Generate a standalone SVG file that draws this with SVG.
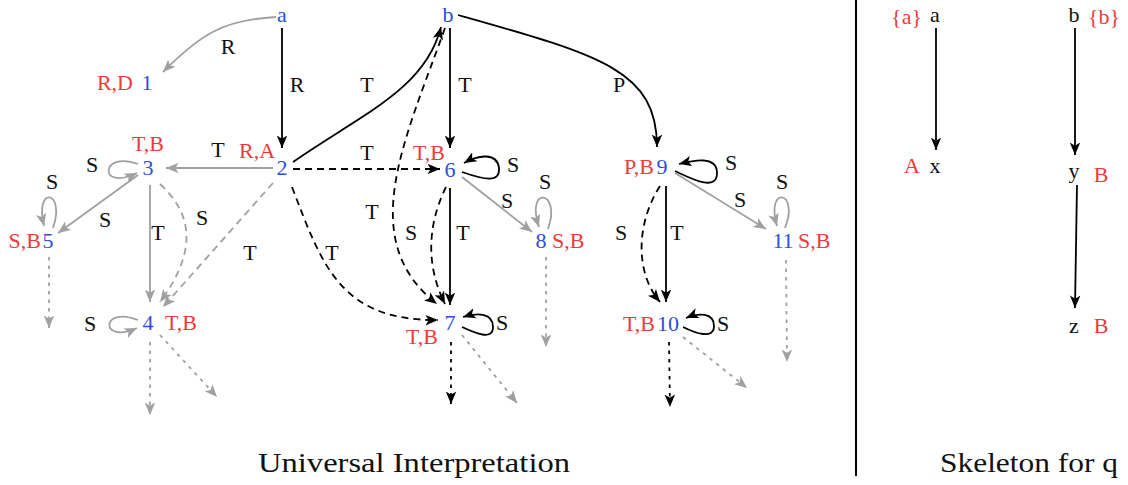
<svg xmlns="http://www.w3.org/2000/svg" width="1128" height="485" viewBox="0 0 1128 485">
<style>
text{font-family:"Liberation Serif","Times New Roman",serif;font-size:22px}
.n{fill:#2e4cdc;text-anchor:middle}
.r{fill:#ee3b3b}
.k{fill:#111}
.l{fill:#111;text-anchor:middle}
.m{text-anchor:middle}
.s{text-anchor:start}
.en{text-anchor:end}
.cap{font-size:28px;fill:#111}
#connectors path{fill:none;stroke-width:1.8}
.b{stroke:#000}
.g{stroke:#a0a0a0}
.d{stroke-dasharray:7 5}
.o{stroke-dasharray:3.5 5}
.ba{marker-end:url(#ab)}
.ga{marker-end:url(#ag)}
.hb{fill:#000;stroke:none}
.hg{fill:#a0a0a0;stroke:none}
</style>
<defs>
<marker id="ab" viewBox="0 0 10 10" refX="10" refY="5" markerWidth="12.5" markerHeight="12.5" markerUnits="userSpaceOnUse" orient="auto"><path class="hb" d="M0,0.8 L10,5 L0,9.2 L2.5,5 z"/></marker>
<marker id="ag" viewBox="0 0 10 10" refX="10" refY="5" markerWidth="12.5" markerHeight="12.5" markerUnits="userSpaceOnUse" orient="auto"><path class="hg" d="M0,0.8 L10,5 L0,9.2 L2.5,5 z"/></marker>
</defs>
<rect width="1128" height="485" fill="#fff"/>

<g id="connectors">
<path class="g ga" d="M276 17 C222 20 200 35 163 72"/>
<path class="b ba" d="M282 28 L282 148"/>
<path class="g ga" d="M273 168 L166 168"/>
<path class="b ba" d="M293 162 C360 115 425 90 441 27"/>
<path class="b ba" d="M450 28 L450 148"/>
<path class="b ba" d="M458 15 C600 55 657 70 657 147"/>
<path class="b d ba" d="M293 169 L440 169"/>
<path class="b d ba" d="M445 28 C405 140 355 240 437 304"/>
<path class="b d ba" d="M292 187 C322 265 340 321 438 320"/>
<path class="b d ba" d="M446 187 C425 230 428 270 445 304"/>
<path class="b ba" d="M450 188 L450 305"/>
<path class="b ba" d="M462 172 C485 180 500 183 499 168 C497 152 478 155 464 163"/>
<path class="g ga" d="M462 177 L532 232"/>
<path class="g ga" d="M548 229 C562 190 525 185 539 227"/>
<path class="g o ga" d="M546 257 L546 347"/>
<path class="b o ba" d="M451 342 L451 404"/>
<path class="g o ga" d="M462 335 L517 403"/>
<path class="b ba" d="M462 327 C475 333 493 341 493 327 C493 312 476 313 463 317"/>
<path class="b ba" d="M675 171 C690 178 718 193 717 172 C716 156 695 160 679 164"/>
<path class="g ga" d="M675 173 L766 229"/>
<path class="b d ba" d="M660 186 C638 220 633 270 660 302"/>
<path class="b ba" d="M666 186 L666 302"/>
<path class="b ba" d="M683 327 C695 333 714 340 714 326 C714 312 698 313 686 318"/>
<path class="b o ba" d="M669 342 L670 407"/>
<path class="g o ga" d="M683 337 L747 388"/>
<path class="g ga" d="M785 228 C800 190 765 185 777 226"/>
<path class="g o ga" d="M786 260 L787 362"/>
<path class="g ga" d="M138 164 C100 150 98 192 137 173"/>
<path class="g ga" d="M138 175 L58 233"/>
<path class="g ga" d="M53 228 C66 190 34 185 44 226"/>
<path class="g o ga" d="M49 257 L49 328"/>
<path class="g ga" d="M150 185 L150 302"/>
<path class="g d ga" d="M160 184 C188 210 202 245 160 302"/>
<path class="g d ga" d="M273 183 L163 307"/>
<path class="g ga" d="M138 320 C100 305 100 345 137 328"/>
<path class="g o ga" d="M150 342 L150 415"/>
<path class="g o ga" d="M160 335 L217 397"/>
<path class="b ba" d="M936 28 L936 150"/>
<path class="b ba" d="M1075 28 L1075 155"/>
<path class="b ba" d="M1077 185 L1075 308"/>
</g>

<line x1="856" y1="0" x2="856" y2="476" stroke="#000" stroke-width="2"/>

<g id="edge-labels">
<text class="l" x="228" y="54">R</text>
<text class="l" x="297" y="92">R</text>
<text class="l" x="218" y="157">T</text>
<text class="l" x="367" y="92">T</text>
<text class="l" x="465" y="92">T</text>
<text class="l" x="619" y="92">P</text>
<text class="l" x="367" y="160">T</text>
<text class="l" x="92" y="172">S</text>
<text class="l" x="52" y="189">S</text>
<text class="l" x="105" y="227">S</text>
<text class="l" x="158" y="240">T</text>
<text class="l" x="202" y="225">S</text>
<text class="l" x="250" y="260">T</text>
<text class="l" x="90" y="331">S</text>
<text class="l" x="372" y="219">T</text>
<text class="l" x="332" y="260">T</text>
<text class="l" x="411" y="240">S</text>
<text class="l" x="463" y="240">T</text>
<text class="l" x="513" y="172">S</text>
<text class="l" x="507" y="208">S</text>
<text class="l" x="545" y="189">S</text>
<text class="l" x="502" y="330">S</text>
<text class="l" x="731" y="170">S</text>
<text class="l" x="740" y="207">S</text>
<text class="l" x="782" y="189">S</text>
<text class="l" x="621" y="240">S</text>
<text class="l" x="677" y="240">T</text>
<text class="l" x="723" y="331">S</text>
</g>

<g id="node-a"><text class="n" x="282" y="22">a</text></g>
<g id="node-b"><text class="n" x="448" y="22">b</text></g>
<g id="node-1"><text class="n" x="147" y="90">1</text><text class="r en" x="133" y="90">R,D</text></g>
<g id="node-2"><text class="n" x="282" y="175">2</text><text class="r m" x="257" y="158">R,A</text></g>
<g id="node-3"><text class="n" x="148" y="175">3</text><text class="r m" x="148" y="151">T,B</text></g>
<g id="node-4"><text class="n" x="148" y="330">4</text><text class="r s" x="165" y="330">T,B</text></g>
<g id="node-5"><text class="n" x="48" y="248">5</text><text class="r en" x="41" y="248">S,B</text></g>
<g id="node-6"><text class="n" x="450" y="177">6</text><text class="r en" x="445" y="160">T,B</text></g>
<g id="node-7"><text class="n" x="450" y="330">7</text><text class="r en" x="438" y="344">T,B</text></g>
<g id="node-8"><text class="n" x="541" y="248">8</text><text class="r s" x="552" y="248">S,B</text></g>
<g id="node-9"><text class="n" x="662" y="174">9</text><text class="r en" x="654" y="174">P,B</text></g>
<g id="node-10"><text class="n" x="668" y="331">10</text><text class="r en" x="655" y="331">T,B</text></g>
<g id="node-11"><text class="n" x="783" y="248">11</text><text class="r s" x="798" y="248">S,B</text></g>

<g id="sk-a"><text class="k m" x="935" y="22">a</text><text class="r en" x="922" y="24">{a}</text></g>
<g id="sk-x"><text class="k m" x="935" y="173">x</text><text class="r m" x="912" y="173">A</text></g>
<g id="sk-b"><text class="k m" x="1074" y="22">b</text><text class="r s" x="1088" y="24">{b}</text></g>
<g id="sk-y"><text class="k m" x="1074" y="178">y</text><text class="r m" x="1101" y="182">B</text></g>
<g id="sk-z"><text class="k m" x="1074" y="333">z</text><text class="r m" x="1101" y="333">B</text></g>

<text class="cap" x="258" y="472" textLength="312" lengthAdjust="spacingAndGlyphs">Universal Interpretation</text>
<text class="cap" x="940" y="472" textLength="178" lengthAdjust="spacingAndGlyphs">Skeleton for q</text>
</svg>
